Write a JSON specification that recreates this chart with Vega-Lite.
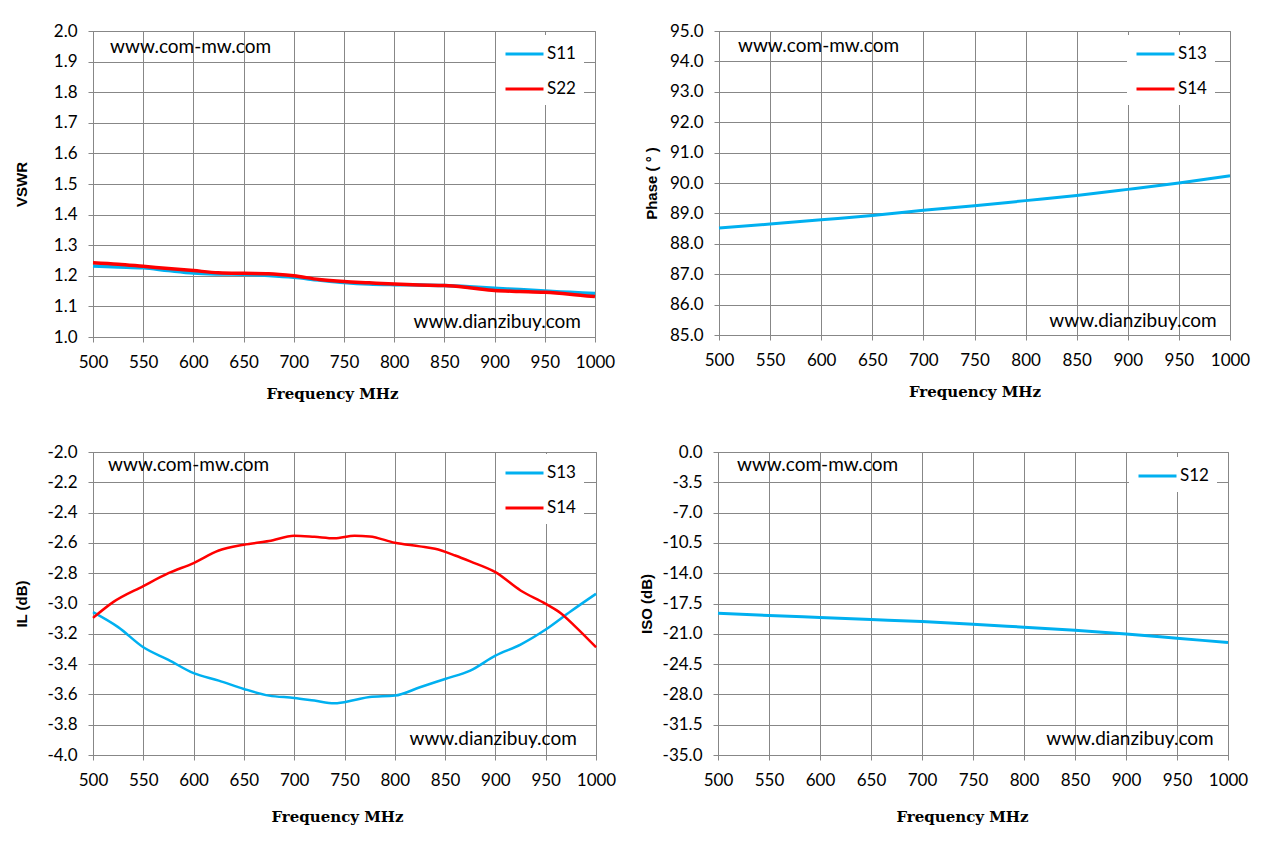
{
  "$schema": "https://vega.github.io/schema/vega-lite/v6.json",
  "background": "white",
  "padding": {"left": 13, "top": 21, "right": 5, "bottom": 5},
  "datasets": {
    "vswr": [
      {"freq": 500, "value": 1.232, "series": "S11"},
      {"freq": 525, "value": 1.229, "series": "S11"},
      {"freq": 550, "value": 1.226, "series": "S11"},
      {"freq": 575, "value": 1.217, "series": "S11"},
      {"freq": 600, "value": 1.209, "series": "S11"},
      {"freq": 625, "value": 1.206, "series": "S11"},
      {"freq": 650, "value": 1.205, "series": "S11"},
      {"freq": 675, "value": 1.201, "series": "S11"},
      {"freq": 700, "value": 1.195, "series": "S11"},
      {"freq": 725, "value": 1.186, "series": "S11"},
      {"freq": 750, "value": 1.178, "series": "S11"},
      {"freq": 775, "value": 1.173, "series": "S11"},
      {"freq": 800, "value": 1.171, "series": "S11"},
      {"freq": 825, "value": 1.170, "series": "S11"},
      {"freq": 850, "value": 1.168, "series": "S11"},
      {"freq": 875, "value": 1.164, "series": "S11"},
      {"freq": 900, "value": 1.159, "series": "S11"},
      {"freq": 925, "value": 1.155, "series": "S11"},
      {"freq": 950, "value": 1.150, "series": "S11"},
      {"freq": 975, "value": 1.146, "series": "S11"},
      {"freq": 1000, "value": 1.142, "series": "S11"},
      {"freq": 500, "value": 1.243, "series": "S22"},
      {"freq": 525, "value": 1.238, "series": "S22"},
      {"freq": 550, "value": 1.231, "series": "S22"},
      {"freq": 575, "value": 1.224, "series": "S22"},
      {"freq": 600, "value": 1.217, "series": "S22"},
      {"freq": 625, "value": 1.210, "series": "S22"},
      {"freq": 650, "value": 1.208, "series": "S22"},
      {"freq": 675, "value": 1.207, "series": "S22"},
      {"freq": 700, "value": 1.200, "series": "S22"},
      {"freq": 725, "value": 1.188, "series": "S22"},
      {"freq": 750, "value": 1.181, "series": "S22"},
      {"freq": 775, "value": 1.177, "series": "S22"},
      {"freq": 800, "value": 1.173, "series": "S22"},
      {"freq": 825, "value": 1.170, "series": "S22"},
      {"freq": 850, "value": 1.168, "series": "S22"},
      {"freq": 875, "value": 1.161, "series": "S22"},
      {"freq": 900, "value": 1.152, "series": "S22"},
      {"freq": 925, "value": 1.149, "series": "S22"},
      {"freq": 950, "value": 1.146, "series": "S22"},
      {"freq": 975, "value": 1.140, "series": "S22"},
      {"freq": 1000, "value": 1.132, "series": "S22"}
    ],
    "phase": [
      {"freq": 500, "value": 88.52, "series": "S13"},
      {"freq": 550, "value": 88.65, "series": "S13"},
      {"freq": 600, "value": 88.79, "series": "S13"},
      {"freq": 650, "value": 88.93, "series": "S13"},
      {"freq": 700, "value": 89.10, "series": "S13"},
      {"freq": 750, "value": 89.25, "series": "S13"},
      {"freq": 800, "value": 89.42, "series": "S13"},
      {"freq": 850, "value": 89.59, "series": "S13"},
      {"freq": 900, "value": 89.79, "series": "S13"},
      {"freq": 950, "value": 90.00, "series": "S13"},
      {"freq": 1000, "value": 90.24, "series": "S13"}
    ],
    "il": [
      {"freq": 500, "value": -3.057, "series": "S13"},
      {"freq": 525, "value": -3.156, "series": "S13"},
      {"freq": 550, "value": -3.289, "series": "S13"},
      {"freq": 575, "value": -3.372, "series": "S13"},
      {"freq": 600, "value": -3.460, "series": "S13"},
      {"freq": 625, "value": -3.509, "series": "S13"},
      {"freq": 650, "value": -3.564, "series": "S13"},
      {"freq": 675, "value": -3.608, "series": "S13"},
      {"freq": 700, "value": -3.623, "series": "S13"},
      {"freq": 720, "value": -3.641, "series": "S13"},
      {"freq": 740, "value": -3.659, "series": "S13"},
      {"freq": 760, "value": -3.637, "series": "S13"},
      {"freq": 775, "value": -3.617, "series": "S13"},
      {"freq": 800, "value": -3.608, "series": "S13"},
      {"freq": 825, "value": -3.553, "series": "S13"},
      {"freq": 850, "value": -3.498, "series": "S13"},
      {"freq": 875, "value": -3.443, "series": "S13"},
      {"freq": 900, "value": -3.344, "series": "S13"},
      {"freq": 925, "value": -3.271, "series": "S13"},
      {"freq": 950, "value": -3.172, "series": "S13"},
      {"freq": 975, "value": -3.051, "series": "S13"},
      {"freq": 1000, "value": -2.936, "series": "S13"},
      {"freq": 500, "value": -3.095, "series": "S14"},
      {"freq": 520, "value": -2.991, "series": "S14"},
      {"freq": 550, "value": -2.885, "series": "S14"},
      {"freq": 575, "value": -2.800, "series": "S14"},
      {"freq": 600, "value": -2.733, "series": "S14"},
      {"freq": 625, "value": -2.650, "series": "S14"},
      {"freq": 650, "value": -2.612, "series": "S14"},
      {"freq": 675, "value": -2.588, "series": "S14"},
      {"freq": 700, "value": -2.553, "series": "S14"},
      {"freq": 720, "value": -2.560, "series": "S14"},
      {"freq": 740, "value": -2.570, "series": "S14"},
      {"freq": 760, "value": -2.553, "series": "S14"},
      {"freq": 775, "value": -2.557, "series": "S14"},
      {"freq": 800, "value": -2.599, "series": "S14"},
      {"freq": 825, "value": -2.623, "series": "S14"},
      {"freq": 840, "value": -2.639, "series": "S14"},
      {"freq": 860, "value": -2.683, "series": "S14"},
      {"freq": 875, "value": -2.722, "series": "S14"},
      {"freq": 900, "value": -2.793, "series": "S14"},
      {"freq": 925, "value": -2.914, "series": "S14"},
      {"freq": 950, "value": -3.002, "series": "S14"},
      {"freq": 965, "value": -3.064, "series": "S14"},
      {"freq": 980, "value": -3.156, "series": "S14"},
      {"freq": 1000, "value": -3.289, "series": "S14"}
    ],
    "iso": [
      {"freq": 500, "value": -18.62, "series": "S12"},
      {"freq": 550, "value": -18.89, "series": "S12"},
      {"freq": 600, "value": -19.12, "series": "S12"},
      {"freq": 650, "value": -19.35, "series": "S12"},
      {"freq": 700, "value": -19.58, "series": "S12"},
      {"freq": 750, "value": -19.89, "series": "S12"},
      {"freq": 800, "value": -20.24, "series": "S12"},
      {"freq": 850, "value": -20.59, "series": "S12"},
      {"freq": 900, "value": -21.01, "series": "S12"},
      {"freq": 950, "value": -21.51, "series": "S12"},
      {"freq": 1000, "value": -22.01, "series": "S12"}
    ]
  },
  "vconcat": [
    {
      "hconcat": [
        {
          "width": 502,
          "height": 306,
          "encoding": {
            "x": {"field": "freq", "type": "quantitative", "title": "Frequency MHz",
                  "scale": {"domain": [500, 1000], "nice": false},
                  "axis": {"values": [500, 550, 600, 650, 700, 750, 800, 850, 900, 950, 1000], "format": "d", "titleX": 239}},
            "y": {"field": "value", "type": "quantitative", "title": "VSWR",
                  "scale": {"domain": [1.0, 2.0], "nice": false},
                  "axis": {"values": [1.0, 1.1, 1.2, 1.3, 1.4, 1.5, 1.6, 1.7, 1.8, 1.9, 2.0], "format": ".1f", "titlePadding": 24}}
          },
          "layer": [
            {
              "data": {"name": "vswr"},
              "mark": {"type": "line", "interpolate": "monotone", "strokeWidth": 3.5},
              "encoding": {
                "color": {"field": "series", "type": "nominal",
                          "scale": {"domain": ["S11", "S22"], "range": ["#00B0F0", "#FF0000"]},
                          "legend": {"orient": "none", "legendX": 403, "legendY": 4}}
              }
            },
            {
              "data": {"values": [{"freq": 517, "value": 1.948, "label": "www.com-mw.com"}]},
              "mark": {"type": "text", "align": "left", "baseline": "middle", "fontSize": 19},
              "encoding": {"text": {"field": "label"}}
            },
            {
              "data": {"values": [{"freq": 986, "value": 1.049, "label": "www.dianzibuy.com"}]},
              "mark": {"type": "text", "align": "right", "baseline": "middle", "fontSize": 19},
              "encoding": {"text": {"field": "label"}}
            }
          ]
        },
        {
          "width": 511,
          "height": 304,
          "encoding": {
            "x": {"field": "freq", "type": "quantitative", "title": "Frequency MHz",
                  "scale": {"domain": [500, 1000], "nice": false},
                  "axis": {"values": [500, 550, 600, 650, 700, 750, 800, 850, 900, 950, 1000], "format": "d"}},
            "y": {"field": "value", "type": "quantitative", "title": "Phase ( ° )",
                  "scale": {"domain": [85, 95], "nice": false},
                  "axis": {"values": [85, 86, 87, 88, 89, 90, 91, 92, 93, 94, 95], "format": ".1f", "titlePadding": 10}}
          },
          "layer": [
            {
              "data": {"name": "phase"},
              "mark": {"type": "line", "interpolate": "monotone", "strokeWidth": 3},
              "encoding": {
                "color": {"field": "series", "type": "nominal",
                          "scale": {"domain": ["S13", "S14"], "range": ["#00B0F0", "#FF0000"]},
                          "legend": {"orient": "none", "legendX": 408, "legendY": 4}}
              }
            },
            {
              "data": {"values": [{"freq": 518.6, "value": 94.5, "label": "www.com-mw.com"}]},
              "mark": {"type": "text", "align": "left", "baseline": "middle", "fontSize": 19},
              "encoding": {"text": {"field": "label"}}
            },
            {
              "data": {"values": [{"freq": 987, "value": 85.46, "label": "www.dianzibuy.com"}]},
              "mark": {"type": "text", "align": "right", "baseline": "middle", "fontSize": 19},
              "encoding": {"text": {"field": "label"}}
            }
          ]
        }
      ],
      "spacing": 27,
      "resolve": {"scale": {"color": "independent"}, "legend": {"color": "independent"}}
    },
    {
      "hconcat": [
        {
          "width": 503,
          "height": 303,
          "encoding": {
            "x": {"field": "freq", "type": "quantitative", "title": "Frequency MHz",
                  "scale": {"domain": [500, 1000], "nice": false},
                  "axis": {"values": [500, 550, 600, 650, 700, 750, 800, 850, 900, 950, 1000], "format": "d", "titleX": 244, "titlePadding": 21}},
            "y": {"field": "value", "type": "quantitative", "title": "IL (dB)",
                  "scale": {"domain": [-4.0, -2.0], "nice": false},
                  "axis": {"values": [-4.0, -3.8, -3.6, -3.4, -3.2, -3.0, -2.8, -2.6, -2.4, -2.2, -2.0], "format": ".1f", "titlePadding": 17}}
          },
          "layer": [
            {
              "data": {"name": "il"},
              "mark": {"type": "line", "interpolate": "monotone", "strokeWidth": 2.5},
              "encoding": {
                "color": {"field": "series", "type": "nominal",
                          "scale": {"domain": ["S13", "S14"], "range": ["#00B0F0", "#FF0000"]},
                          "legend": {"orient": "none", "legendX": 403, "legendY": 2}}
              }
            },
            {
              "data": {"values": [{"freq": 515, "value": -2.086, "label": "www.com-mw.com"}]},
              "mark": {"type": "text", "align": "left", "baseline": "middle", "fontSize": 19},
              "encoding": {"text": {"field": "label"}}
            },
            {
              "data": {"values": [{"freq": 981, "value": -3.894, "label": "www.dianzibuy.com"}]},
              "mark": {"type": "text", "align": "right", "baseline": "middle", "fontSize": 19},
              "encoding": {"text": {"field": "label"}}
            }
          ]
        },
        {
          "width": 510,
          "height": 303,
          "encoding": {
            "x": {"field": "freq", "type": "quantitative", "title": "Frequency MHz",
                  "scale": {"domain": [500, 1000], "nice": false},
                  "axis": {"values": [500, 550, 600, 650, 700, 750, 800, 850, 900, 950, 1000], "format": "d", "titleX": 244, "titlePadding": 21}},
            "y": {"field": "value", "type": "quantitative", "title": "ISO (dB)",
                  "scale": {"domain": [-35, 0], "nice": false},
                  "axis": {"values": [-35, -31.5, -28, -24.5, -21, -17.5, -14, -10.5, -7, -3.5, 0], "format": ".1f", "titlePadding": 8}}
          },
          "layer": [
            {
              "data": {"name": "iso"},
              "mark": {"type": "line", "interpolate": "monotone", "strokeWidth": 3},
              "encoding": {
                "color": {"field": "series", "type": "nominal",
                          "scale": {"domain": ["S12"], "range": ["#00B0F0"]},
                          "legend": {"orient": "none", "legendX": 411, "legendY": 5}}
              }
            },
            {
              "data": {"values": [{"freq": 518.6, "value": -1.5, "label": "www.com-mw.com"}]},
              "mark": {"type": "text", "align": "left", "baseline": "middle", "fontSize": 19},
              "encoding": {"text": {"field": "label"}}
            },
            {
              "data": {"values": [{"freq": 986, "value": -33.15, "label": "www.dianzibuy.com"}]},
              "mark": {"type": "text", "align": "right", "baseline": "middle", "fontSize": 19},
              "encoding": {"text": {"field": "label"}}
            }
          ]
        }
      ],
      "spacing": 21,
      "resolve": {"scale": {"color": "independent"}, "legend": {"color": "independent"}}
    }
  ],
  "spacing": 40,
  "resolve": {"scale": {"color": "independent"}, "legend": {"color": "independent"}},
  "config": {
    "font": "Lato",
    "view": {"stroke": "#878787", "strokeWidth": 1},
    "text": {"font": "Lato", "color": "#000"},
    "axis": {
      "gridColor": "#878787", "gridOpacity": 1, "gridWidth": 1,
      "domainColor": "#878787", "tickColor": "#878787", "tickSize": 5,
      "labelFont": "Lato", "labelFontSize": 17, "labelColor": "#000",
      "labelOverlap": false, "labelFlush": false, "titleColor": "#000"
    },
    "axisX": {"labelPadding": 12, "titleFont": "DejaVu Serif", "titleFontSize": 15, "titleFontWeight": "bold", "titlePadding": 16},
    "axisY": {"labelPadding": 11, "titleFont": "Liberation Sans", "titleFontSize": 15, "titleFontWeight": "bold",
              "labelExpr": "replace(datum.label, '\u2212', '-')"},
    "legend": {
      "title": null, "symbolType": "M-1,0H3", "symbolStrokeWidth": 3, "symbolSize": 361,
      "labelFont": "Lato", "labelFontSize": 17, "labelColor": "#000", "labelOffset": 21,
      "fillColor": "white", "padding": 8, "rowPadding": 16
    }
  }
}
